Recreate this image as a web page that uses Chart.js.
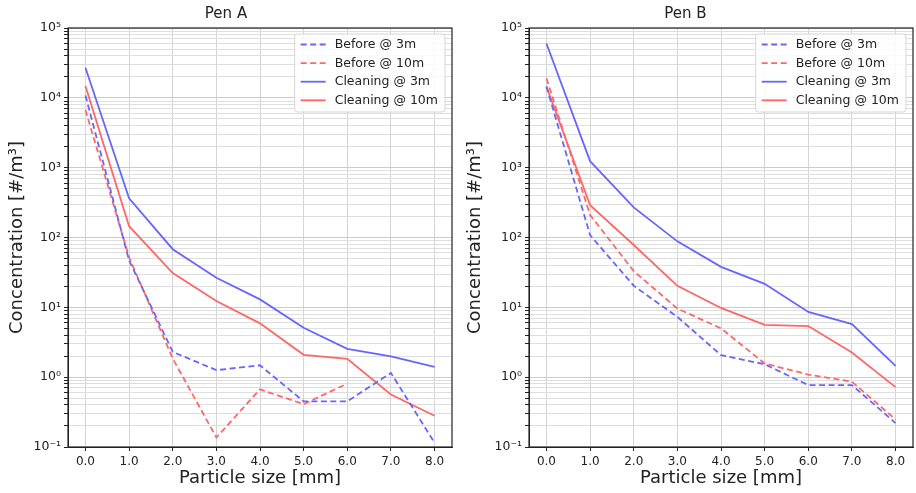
<!DOCTYPE html>
<html>
<head>
<meta charset="utf-8">
<script src="https://cdn.jsdelivr.net/npm/chart.js@4.4.1/dist/chart.umd.min.js"></script>
<style>
body { margin: 0; background: #fff; }
.pane { position: absolute; top: 0; width: 458px; height: 493px; }
</style>
</head>
<body>
<div class="pane" style="left:0"><canvas id="penA"></canvas></div>
<div class="pane" style="left:458px"><canvas id="penB"></canvas></div>
<script>
const SIZES = [0, 1, 2, 3, 4, 5, 6, 7, 8];
const SERIES_NAMES = ['Before @ 3m', 'Before @ 10m', 'Cleaning @ 3m', 'Cleaning @ 10m'];

const PEN_A_BEFORE_3M = [10800, 47, 2.3, 1.26, 1.48, 0.45, 0.45, 1.15, 0.115];
const PEN_A_BEFORE_10M = [6700, 52, 1.85, 0.137, 0.67, 0.41, 0.81, null, null];
const PEN_A_CLEAN_3M = [27000, 365, 68, 26.5, 13, 5.1, 2.55, 1.98, 1.4];
const PEN_A_CLEAN_10M = [14800, 145, 31, 12.3, 5.9, 2.09, 1.83, 0.565, 0.28];

const PEN_B_BEFORE_3M = [14500, 108, 20.4, 7.3, 2.07, 1.53, 0.77, 0.77, 0.22];
const PEN_B_BEFORE_10M = [19000, 210, 33, 9.6, 5.0, 1.57, 1.09, 0.86, 0.248];
const PEN_B_CLEAN_3M = [60000, 1240, 270, 88, 38, 21.7, 8.6, 5.75, 1.45];
const PEN_B_CLEAN_10M = [14500, 290, 78, 20.3, 9.8, 5.6, 5.4, 2.26, 0.72];

const X_TICKS = [0, 1, 2, 3, 4, 5, 6, 7, 8];
const Y_DECADES = [-1, 0, 1, 2, 3, 4, 5];

const BLUE = 'rgb(102,102,255)';
const RED = 'rgb(255,102,102)';
const FONT = "'DejaVu Sans', sans-serif";
const SUP = {'-': '⁻', '0': '⁰', '1': '¹', '2': '²', '3': '³', '4': '⁴', '5': '⁵', '6': '⁶', '7': '⁷', '8': '⁸', '9': '⁹'};

function isDecade(v) {
  const e = Math.log10(v);
  return Math.abs(e - Math.round(e)) < 1e-9;
}

function logTicks() {
  const out = [];
  for (let i = 0; i < Y_DECADES.length - 1; i++) {
    for (let m = 1; m <= 9; m++) out.push({value: parseFloat(m + 'e' + Y_DECADES[i])});
  }
  out.push({value: parseFloat('1e' + Y_DECADES[Y_DECADES.length - 1])});
  return out;
}

function points(vals) {
  return SIZES.map((x, i) => ({x: x, y: vals[i]}));
}

// black frame all round the plot area
const frame = {
  id: 'frame',
  afterDatasetsDraw(chart) {
    const a = chart.chartArea, ctx = chart.ctx;
    ctx.save();
    ctx.strokeStyle = '#222';
    ctx.lineWidth = 1.2;
    ctx.strokeRect(a.left, a.top, a.right - a.left, a.bottom - a.top);
    ctx.restore();
  }
};

// matplotlib style legend in the upper right corner
const boxLegend = {
  id: 'boxLegend',
  afterDraw(chart) {
    const a = chart.chartArea, ctx = chart.ctx;
    const sets = chart.data.datasets;
    ctx.save();
    ctx.font = '12.5px ' + FONT;
    let tw = 0;
    sets.forEach(d => { tw = Math.max(tw, ctx.measureText(d.label).width); });
    const w = 6 + 25 + 9 + tw + 7, h = 78;
    const x = a.right - 7 - w, y = a.top + 6;
    ctx.fillStyle = 'rgba(255,255,255,0.85)';
    ctx.strokeStyle = '#d6d6d6';
    ctx.lineWidth = 1;
    ctx.beginPath();
    ctx.roundRect(x, y, w, h, 3);
    ctx.fill();
    ctx.stroke();
    sets.forEach((d, i) => {
      const cy = y + 10.5 + i * 18.6;
      ctx.strokeStyle = d.borderColor;
      ctx.lineWidth = d.borderWidth;
      ctx.setLineDash(d.borderDash || []);
      ctx.beginPath();
      ctx.moveTo(x + 6, cy);
      ctx.lineTo(x + 31, cy);
      ctx.stroke();
      ctx.setLineDash([]);
      ctx.fillStyle = '#222';
      ctx.textBaseline = 'middle';
      ctx.fillText(d.label, x + 40, cy + 0.5);
    });
    ctx.restore();
  }
};

function makeChart(id, title, series, axisWidth, padRight) {
  const styles = [
    {color: BLUE, dash: [6, 3.5]},
    {color: RED, dash: [6, 3.5]},
    {color: BLUE, dash: []},
    {color: RED, dash: []}
  ];
  return new Chart(document.getElementById(id), {
    type: 'line',
    data: {
      datasets: series.map((vals, i) => ({
        label: SERIES_NAMES[i],
        data: points(vals),
        borderColor: styles[i].color,
        borderDash: styles[i].dash,
        borderWidth: 1.8,
        pointRadius: 0,
        tension: 0,
        fill: false
      }))
    },
    options: {
      animation: false,
      responsive: true,
      maintainAspectRatio: false,
      layout: {padding: {top: 0, right: padRight, bottom: 0, left: 0}},
      plugins: {
        legend: {display: false},
        tooltip: {enabled: false},
        title: {
          display: true,
          text: title,
          color: '#222',
          font: {family: FONT, size: 15, weight: 'normal'},
          padding: {top: 5, bottom: 5}
        }
      },
      scales: {
        x: {
          type: 'linear',
          min: -0.4,
          max: 8.4,
          afterBuildTicks: s => { s.ticks = X_TICKS.map(v => ({value: v})); },
          afterFit: s => { s.height = 46; },
          ticks: {
            autoSkip: false,
            maxRotation: 0,
            padding: 4,
            color: '#222',
            font: {family: FONT, size: 12},
            callback: v => Number(v).toFixed(1)
          },
          grid: {color: '#d4d4d4', lineWidth: 1, tickLength: 4, tickColor: '#222'},
          border: {display: true, color: '#222'},
          title: {
            display: true,
            text: 'Particle size [mm]',
            color: '#222',
            font: {family: FONT, size: 18},
            padding: {top: 0, bottom: 4}
          }
        },
        y: {
          type: 'logarithmic',
          min: 0.1,
          max: 100000,
          afterBuildTicks: s => { s.ticks = logTicks(); },
          afterFit: s => { s.width = axisWidth; },
          ticks: {
            autoSkip: false,
            padding: 3,
            color: '#222',
            font: {family: FONT, size: 12.5},
            callback: v => {
              if (!isDecade(v)) return '';
              const e = String(Math.round(Math.log10(v)));
              return '10' + e.split('').map(c => SUP[c]).join('');
            }
          },
          grid: {
            color: c => isDecade(c.tick.value) ? '#cccccc' : '#dedede',
            lineWidth: 1,
            tickLength: 4,
            tickColor: '#222'
          },
          border: {display: true, color: '#222'},
          title: {
            display: true,
            text: 'Concentration [#/m³]',
            color: '#222',
            font: {family: FONT, size: 18},
            padding: {top: 7, bottom: 0}
          }
        }
      }
    },
    plugins: [frame, boxLegend]
  });
}

makeChart('penA', 'Pen A', [PEN_A_BEFORE_3M, PEN_A_BEFORE_10M, PEN_A_CLEAN_3M, PEN_A_CLEAN_10M], 68, 6);
makeChart('penB', 'Pen B', [PEN_B_BEFORE_3M, PEN_B_BEFORE_10M, PEN_B_CLEAN_3M, PEN_B_CLEAN_10M], 71, 3);
</script>
</body>
</html>
